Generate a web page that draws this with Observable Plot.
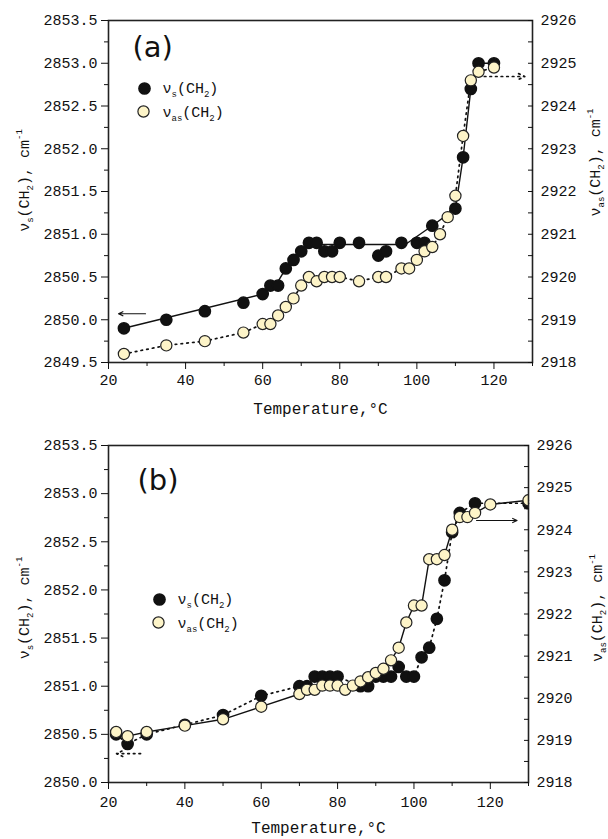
<!DOCTYPE html>
<html><head><meta charset="utf-8">
<script src="https://cdn.jsdelivr.net/npm/d3@7"></script>
<script src="https://cdn.jsdelivr.net/npm/@observablehq/plot@0.6"></script>
<style>
body{margin:0;background:#fff;}
#chart svg{display:block;}
</style></head><body><div id="chart"></div>
<script>
// ---------- Panel (a) data ----------
const tempA_s = [24,35,45,55,60,62,64,66,68,70,72,74,76,78,80,85,90,92,96,100,102,104,110,112,114,116,120];
const nuS_A   = [2849.9,2850.0,2850.1,2850.2,2850.3,2850.4,2850.4,2850.6,2850.7,2850.8,2850.9,2850.9,2850.8,2850.8,2850.9,2850.9,2850.75,2850.8,2850.9,2850.9,2850.9,2851.1,2851.3,2851.9,2852.7,2853.0,2853.0];
const tempA_as = [24,35,45,55,60,62,64,66,68,70,72,74,76,78,80,85,90,92,96,98,100,102,104,106,108,110,112,114,116,120];
const nuAS_A   = [2918.2,2918.4,2918.5,2918.7,2918.9,2918.9,2919.1,2919.3,2919.5,2919.8,2920.0,2919.9,2920.0,2920.0,2920.0,2919.9,2920.0,2920.0,2920.2,2920.2,2920.4,2920.6,2920.7,2921.0,2921.4,2921.9,2923.3,2924.6,2924.8,2924.9];
// guide line drawn through the nu_s points in (a)
const guideA_T = [24,60,64,66,68,70,72,97,104,110,112,114,116,120];
const guideA_v = [2849.9,2850.3,2850.45,2850.6,2850.7,2850.8,2850.88,2850.88,2851.1,2851.3,2851.9,2852.7,2853.0,2853.0];

// ---------- Panel (b) data ----------
const tempB_s = [22,25,30,40,50,60,70,72,74,76,78,80,86,88,90,92,94,96,98,100,102,104,106,108,110,112,116,130];
const nuS_B   = [2850.5,2850.4,2850.5,2850.6,2850.7,2850.9,2851.0,2851.0,2851.1,2851.1,2851.1,2851.1,2851.0,2851.0,2851.1,2851.1,2851.1,2851.2,2851.1,2851.1,2851.3,2851.4,2851.7,2852.1,2852.6,2852.8,2852.9,2852.9];
const tempB_as = [22,25,30,40,50,60,70,72,74,76,78,80,82,84,86,88,90,92,94,96,98,100,102,104,106,108,110,112,114,116,120,130];
const nuAS_B   = [2919.2,2919.1,2919.2,2919.35,2919.5,2919.8,2920.1,2920.2,2920.2,2920.3,2920.3,2920.3,2920.2,2920.3,2920.4,2920.5,2920.6,2920.7,2920.9,2921.2,2921.8,2922.2,2922.2,2923.3,2923.3,2923.4,2924.0,2924.3,2924.3,2924.4,2924.6,2924.7];

// ---------- axes / arrows / text ----------
const xTicks = [20,40,60,80,100,120];
const xMinor = [30,50,70,90,110,130];
const leftTicksA = [2849.5,2850.0,2850.5,2851.0,2851.5,2852.0,2852.5,2853.0,2853.5];
const leftMinorA = [2849.75,2850.25,2850.75,2851.25,2851.75,2852.25,2852.75,2853.25];
const leftTicksB = [2850.0,2850.5,2851.0,2851.5,2852.0,2852.5,2853.0,2853.5];
const leftMinorB = [2850.25,2850.75,2851.25,2851.75,2852.25,2852.75,2853.25];
const rightTicks = [2918,2919,2920,2921,2922,2923,2924,2925,2926];
const rightMinor = [2918.5,2919.5,2920.5,2921.5,2922.5,2923.5,2924.5,2925.5];
// arrows: from T, to T, value on its axis
const arrowsA = [{from:29.6, to:22.6, value:2850.07, axis:"left", dotted:false},
                 {from:117.5, to:128, value:2924.69, axis:"right", dotted:true}];
const arrowsB = [{from:28.4, to:22.1, value:2850.3, axis:"left", dotted:true},
                 {from:116.4, to:127, value:2924.22, axis:"right", dotted:false}];
const panelLabels = ["(a)", "(b)"];
const legendLabels = ["ν_{s}(CH_{2})", "ν_{as}(CH_{2})"];
const yTitleLeft = "ν_{s}(CH_{2}), cm^{-1}";
const yTitleRight = "ν_{as}(CH_{2}), cm^{-1}";
const xTitle = "Temperature,°C";

const cream = "#fdf4c8";
const ink = "#111";
const mono = "'Liberation Mono', 'DejaVu Sans Mono', monospace";

function panel(o) {
  const [lo, hi] = o.leftDomain;
  const toLeft = r => lo + (r - 2918) * (hi - lo) / 8;
  const fromLeft = l => 2918 + (l - lo) * 8 / (hi - lo);
  const S = o.sT.map((t, i) => ({t, v: o.sV[i]}));
  const AS = o.asT.map((t, i) => ({t, v: toLeft(o.asV[i])}));
  const guide = o.gT ? o.gT.map((t, i) => ({t, v: o.gV[i]})) : S;
  const dotted = {strokeDasharray: "1.6,4.2", strokeLinecap: "round", strokeWidth: 1.7};
  const solid = {strokeWidth: 1.4};
  const arrows = o.arrows.map(a => ({...a, y: a.axis === "left" ? a.value : toLeft(a.value)}));
  const arrowOpts = {x1: "from", x2: "to", y1: "y", y2: "y", stroke: ink, headLength: 6, headAngle: 50};
  return Plot.plot({
    width: 608, height: o.height,
    marginTop: o.mt, marginBottom: o.mb, marginLeft: 108, marginRight: o.mr,
    x: {domain: [20, 130], label: null},
    y: {domain: [lo, hi], label: null},
    style: {fontFamily: mono, fontSize: "15px", color: ink, background: "#fff"},
    marks: [
      Plot.line(guide, {x: "t", y: "v", stroke: ink, ...(o.sDotted ? dotted : solid)}),
      Plot.line(AS, {x: "t", y: "v", stroke: ink, ...(o.sDotted ? solid : dotted)}),
      Plot.arrow(arrows.filter(d => !d.dotted), {...arrowOpts, strokeWidth: 1.2}),
      Plot.arrow(arrows.filter(d => d.dotted), {...arrowOpts, strokeWidth: 1.7, strokeDasharray: "1.6,4", strokeLinecap: "round"}),
      Plot.dot(S, {x: "t", y: "v", r: 5.6, fill: ink, stroke: ink, clip: true}),
      Plot.dot(AS, {x: "t", y: "v", r: 5.6, fill: cream, stroke: "#222", strokeWidth: 1.2, clip: true}),
      Plot.frame({stroke: "#222", strokeWidth: 1.6}),
      // x axis
      Plot.axisX({ticks: xTicks, tickSize: 7, tickPadding: o.xPad, tickFormat: d => String(d), label: null}),
      Plot.axisX({ticks: xMinor, tickSize: 4, fill: "none", label: null}),
      // left axis
      Plot.axisY({ticks: o.leftTicks, tickSize: 7, tickPadding: 4, tickFormat: d3.format(".1f"), label: null}),
      Plot.axisY({ticks: o.leftMinor, tickSize: 4, fill: "none", label: null}),
      // right axis (inward ticks)
      Plot.axisY({anchor: "right", ticks: rightTicks.map(toLeft), tickSize: 5, dx: -5, fill: "none", label: null}),
      Plot.axisY({anchor: "right", ticks: rightMinor.map(toLeft), tickSize: 5, dx: -5, fill: "none", label: null}),
      Plot.axisY({anchor: "right", ticks: rightTicks.map(toLeft), tickSize: 0, tickPadding: 8,
        tickFormat: d => String(Math.round(fromLeft(d))), label: null}),
      // panel label
      Plot.text([o.label], {text: d => d, frameAnchor: "top-left", dx: o.labDx, dy: o.labDy,
        textAnchor: "start", lineAnchor: "middle", fontSize: 29, fontFamily: "'DejaVu Sans', sans-serif"}),
      // legend
      Plot.dot([0], {frameAnchor: "top-left", dx: o.legDx, dy: o.legDy, r: 5.6, fill: ink, stroke: ink}),
      Plot.dot([0], {frameAnchor: "top-left", dx: o.legDx - 1, dy: o.legDy + 23, r: 5.6, fill: cream, stroke: "#222", strokeWidth: 1.2}),
      Plot.text([legendLabels[0]], {text: d => d, frameAnchor: "top-left", dx: o.legDx + 18, dy: o.legDy,
        textAnchor: "start", lineAnchor: "middle", fontSize: 15}),
      Plot.text([legendLabels[1]], {text: d => d, frameAnchor: "top-left", dx: o.legDx + 18, dy: o.legDy + 24,
        textAnchor: "start", lineAnchor: "middle", fontSize: 15}),
      // axis titles
      Plot.text([yTitleLeft], {text: d => d, frameAnchor: "left", dx: -84, dy: o.ylDy, rotate: -90,
        textAnchor: "middle", lineAnchor: "middle", fontSize: 15}),
      Plot.text([yTitleRight], {text: d => d, frameAnchor: "right", dx: o.yrDx, dy: o.yrDy, rotate: -90,
        textAnchor: "middle", lineAnchor: "middle", fontSize: 15}),
      Plot.text([xTitle], {text: d => d, frameAnchor: "bottom", dy: o.xtDy,
        textAnchor: "middle", lineAnchor: "middle", fontSize: 16})
    ]
  });
}

function richify(svg) {
  svg.querySelectorAll("text").forEach(t => {
    const s = t.textContent;
    if (!/[_^]\{/.test(s)) return;
    while (t.firstChild) t.removeChild(t.firstChild);
    const re = /([_^])\{([^}]*)\}|([^_^]+)/g;
    let m, shift = 0;
    while ((m = re.exec(s))) {
      const ts = document.createElementNS("http://www.w3.org/2000/svg", "tspan");
      if (m[1]) {
        const d = m[1] === "_" ? 4 : -7;
        ts.setAttribute("dy", d - shift); shift = d;
        ts.setAttribute("font-size", "9");
        ts.textContent = m[2];
      } else {
        ts.setAttribute("dy", -shift); shift = 0;
        ts.textContent = m[3];
      }
      t.appendChild(ts);
    }
  });
}

const a = panel({
  height: 420, mt: 20, mb: 58, mr: 76, leftDomain: [2849.5, 2853.5],
  sT: tempA_s, sV: nuS_A, asT: tempA_as, asV: nuAS_A, gT: guideA_T, gV: guideA_v,
  sDotted: false, arrows: arrowsA, leftTicks: leftTicksA, leftMinor: leftMinorA,
  label: panelLabels[0], labDx: 24, labDy: 27, legDx: 36, legDy: 68,
  ylDy: -11, yrDx: 63, yrDy: -29, xtDy: 46, xPad: 5
});
const b = panel({
  height: 419, mt: 25, mb: 57, mr: 80, leftDomain: [2850.0, 2853.5],
  sT: tempB_s, sV: nuS_B, asT: tempB_as, asV: nuAS_B,
  sDotted: true, arrows: arrowsB, leftTicks: leftTicksB, leftMinor: leftMinorB,
  label: panelLabels[1], labDx: 29, labDy: 35, legDx: 51, legDy: 154,
  ylDy: -6, yrDx: 69, yrDy: -6, xtDy: 45, xPad: 7
});
richify(a); richify(b);
document.getElementById("chart").append(a, b);
</script></body></html>
